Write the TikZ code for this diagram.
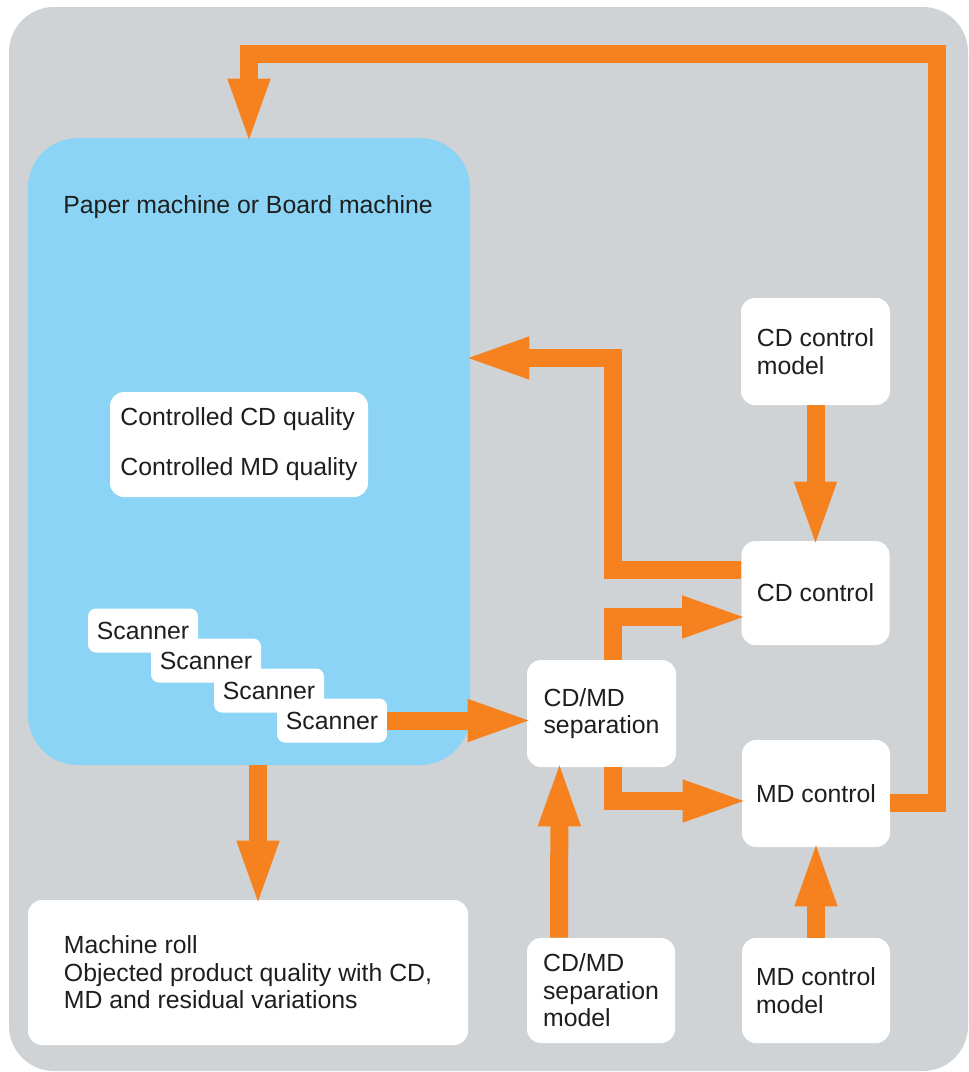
\documentclass[tikz,border=0pt]{standalone}
\usepackage{fontspec}
\setmainfont{Liberation Sans}
\usetikzlibrary{arrows.meta}
\definecolor{bggray}{HTML}{D0D3D6}
\definecolor{pmblue}{HTML}{8BD4F5}
\definecolor{floworange}{HTML}{F5821F}
\definecolor{txtdark}{HTML}{1E1E1E}
\tikzset{
  box/.style={fill=white, rounded corners=7pt, align=left, inner sep=0pt, text=txtdark},
  scanbox/.style={fill=white, rounded corners=4pt, minimum width=55pt, minimum height=22pt, inner sep=0pt, text=txtdark},
  flow/.style={draw=floworange, line width=9pt, shorten >=-4.5pt, -{Triangle[length=34pt,width=18.5pt]}}
}

\begin{document}
\begin{tikzpicture}[x=0.5pt, y=-0.5pt, font=\fontsize{12.4pt}{13.8pt}\selectfont]

    \useasboundingbox (0,0) rectangle (969,1072);
    \fill[bggray, rounded corners=22.5pt] (9,7) rectangle (968,1071);

    \draw (249,451.5) node[fill=pmblue, rounded corners=25pt, minimum width=221pt, minimum height=313.5pt, inner sep=0pt](pm){};
    \draw (63,213) node[anchor=base west, inner sep=0pt, text=txtdark](pmlabel){Paper machine or Board machine};
    \draw (239,444.5) node[box, minimum width=129pt, minimum height=52.5pt](ctrl){Controlled CD quality\\[11.2pt]Controlled MD quality};

    \draw (143,630.5) node[scanbox](sc1){Scanner};
    \draw (206,660.5) node[scanbox](sc2){Scanner};
    \draw (269,690.5) node[scanbox](sc3){Scanner};
    \draw (332,720.5) node[scanbox](sc4){Scanner};

    \draw (248,972.5) node[box, minimum width=220pt, minimum height=72.5pt](roll){Machine roll\\Objected product quality with CD,\\MD and residual variations};

    \draw (815.5,351.5) node[box, minimum width=74.5pt, minimum height=53.5pt](cdm){CD control\\model};
    \draw (815.5,593) node[box, minimum width=74pt, minimum height=52pt](cdc){CD control};
    \draw (601.5,713.5) node[box, minimum width=74.5pt, minimum height=53.5pt](sep){CD/MD\\separation};
    \draw (816,793.5) node[box, minimum width=74pt, minimum height=53.5pt](mdc){MD control};
    \draw (601,990.5) node[box, minimum width=74pt, minimum height=52.5pt](sepm){CD/MD\\separation\\model};
    \draw (816,990.5) node[box, minimum width=74pt, minimum height=52.5pt](mdm){MD control\\model};

    \coordinate (fbtop) at (937,54);
    \coordinate (cdbend) at (613,358);

    \draw[flow] ([yshift=-4.75pt]mdc.east) -| (fbtop) -| (pm.north);
    \draw[flow] (cdm.south) -- (cdc.north);
    \draw[flow] ([yshift=11.5pt]cdc.west) -| (cdbend) -- (pm.east |- cdbend);
    \draw[flow] ([xshift=5.75pt]sep.north) |- ([yshift=-12pt]cdc.west);
    \draw[flow] ([xshift=5.75pt]sep.south) |- ([yshift=-3.75pt]mdc.west);
    \draw[flow] ([xshift=-21pt]sepm.north) -- ([xshift=-21pt]sep.south);
    \draw[flow] (mdm.north) -- (mdc.south);
    \draw[flow] (sc4.east) -- (sep.west |- sc4.east);
    \draw[flow] ([xshift=4.5pt]pm.south) -- ([xshift=4.5pt]pm.south |- roll.north);

\end{tikzpicture}
\end{document}
